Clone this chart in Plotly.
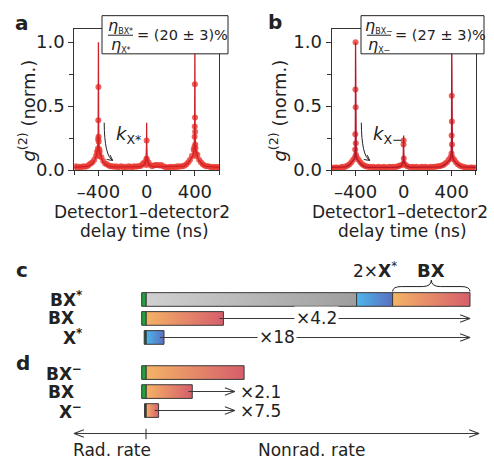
import math
import plotly.graph_objects as go

W, H = 494, 469
FONT = "DejaVu Sans"

# ---------------- panels a, b : g2 histograms ----------------
bins_ns = list(range(-600, 601, 15))  # histogram bin centres (ns)

a_counts = [0.02, 0.03, 0.02, 0.025, 0.02, 0.03, 0.025, 0.03, 0.04, 0.05,
            0.06, 0.08, 0.11, 0.15, 0.14, 0.10, 0.07, 0.05, 0.045, 0.035,
            0.03, 0.03, 0.025, 0.03, 0.02, 0.025, 0.03, 0.02, 0.025, 0.02,
            0.03, 0.025, 0.02, 0.03, 0.025, 0.03, 0.03, 0.035, 0.05, 0.06,
            0.08, 0.06, 0.04, 0.03, 0.035, 0.04, 0.04, 0.035, 0.04, 0.03,
            0.025, 0.02, 0.02, 0.025, 0.02, 0.025, 0.02, 0.03, 0.025, 0.03,
            0.03, 0.035, 0.045, 0.06, 0.08, 0.11, 0.16, 0.17, 0.12, 0.08,
            0.06, 0.045, 0.035, 0.03, 0.03, 0.025, 0.02, 0.025, 0.02, 0.025,
            0.02]
a_peak_ns = [-400, -401, -399, -402, -398, -403, -397, -408, -395, -412, -392,
             0, -1, 1, -4,
             400, 401, 399, 402, 398, 403, 397, 404, 396, 408]
a_peak_g2 = [0.65, 0.39, 0.26, 0.24, 0.22, 0.17, 0.13, 0.12, 0.11, 0.14, 0.16,
             0.23, 0.09, 0.05, 0.04,
             0.67, 0.41, 0.34, 0.30, 0.26, 0.20, 0.145, 0.11, 0.18, 0.13]
a_fit_ns = [-600, -480, -450, -430, -415, -406, -402, -400, -398, -394, -385,
            -370, -350, -320, -290, -60, -20, -5, -1, 0, 1, 5, 20, 60, 310,
            340, 365, 385, 394, 398, 400, 402, 406, 415, 430, 455, 480, 600]
a_fit_g2 = [0.02, 0.03, 0.05, 0.08, 0.12, 0.16, 0.30, 1.0, 0.30, 0.16, 0.12,
            0.08, 0.05, 0.03, 0.025, 0.025, 0.04, 0.08, 0.20, 0.37, 0.20, 0.08,
            0.04, 0.025, 0.03, 0.05, 0.08, 0.12, 0.16, 0.30, 1.0, 0.30, 0.16,
            0.12, 0.08, 0.05, 0.03, 0.02]

b_counts = [0.02, 0.015, 0.02, 0.02, 0.015, 0.02, 0.025, 0.02, 0.03, 0.035,
            0.045, 0.06, 0.08, 0.10, 0.10, 0.08, 0.06, 0.045, 0.035, 0.03,
            0.025, 0.025, 0.02, 0.025, 0.02, 0.02, 0.025, 0.02, 0.02, 0.025,
            0.02, 0.02, 0.025, 0.02, 0.025, 0.02, 0.025, 0.03, 0.035, 0.04,
            0.05, 0.04, 0.03, 0.025, 0.02, 0.025, 0.02, 0.025, 0.02, 0.02,
            0.025, 0.02, 0.025, 0.02, 0.02, 0.025, 0.02, 0.025, 0.025, 0.03,
            0.03, 0.035, 0.04, 0.05, 0.06, 0.08, 0.10, 0.10, 0.08, 0.06,
            0.045, 0.035, 0.03, 0.025, 0.02, 0.02, 0.015, 0.02, 0.02, 0.015,
            0.02]
b_peak_ns = [-400, -401, -399, -402, -398, -403, -397,
             0, -1, 1, 2,
             400, 401, 399, 402, 398, 403]
b_peak_g2 = [1.0, 0.63, 0.49, 0.28, 0.21, 0.16, 0.12,
             0.23, 0.20, 0.09, 0.05,
             0.58, 0.38, 0.27, 0.20, 0.13, 0.09]
b_fit_ns = a_fit_ns
b_fit_g2 = [0.02, 0.025, 0.04, 0.06, 0.08, 0.10, 0.25, 1.0, 0.25, 0.10, 0.08,
            0.06, 0.04, 0.025, 0.02, 0.02, 0.03, 0.06, 0.15, 0.27, 0.15, 0.06,
            0.03, 0.02, 0.025, 0.04, 0.06, 0.08, 0.10, 0.25, 1.0, 0.25, 0.10,
            0.08, 0.06, 0.04, 0.025, 0.02]

x_tickvals = [-400, 0, 400]
x_ticktext = ["\u2013400", "0", "400"]
y_tickvals = [0, 0.5, 1.0]
y_ticktext = ["0.0", "0.5", "1.0"]

ratio_texts = {"a": ("BX*", "X*", "(20 \u00b1 3)%"), "b": ("BX\u2212", "X\u2212", "(27 \u00b1 3)%")}

# ---------------- panels c, d : rates (unit = X* nonradiative rate) ----------------
c_labels = ["BX", "BX", "X"]
c_sups = ["*", "", "*"]
c_rows = [0, 1, 2]
c_rad = [0.24, 0.24, 0.10]
c_BXs_nonrad = 18.0
c_BX_nonrad = 4.3
c_X_nonrad = 1.0
c_ratio_text = ["\u00d74.2", "\u00d718"]
c_ratio_x = [9.45, 7.3]

d_labels = ["BX", "BX", "X"]
d_sups = ["\u2212", "", "\u2212"]
d_rows = [3.85, 4.85, 5.85]
d_rad = [0.24, 0.24, 0.08]
d_BXm_nonrad = 5.45
d_BX_nonrad = 2.57
d_Xm_nonrad = 0.70
d_ratio_text = ["\u00d72.1", "\u00d77.5"]

GREEN = "#22a03c"
DKGREEN = "#135c28"
EDGE = "#3a3a3a"
OR_SCALE = [[0, "#f4b366"], [1, "#d65e6b"]]
BL_SCALE = [[0, "#4db6ea"], [1, "#5a6ec0"]]
GR_SCALE = [[0, "#d0d0d0"], [1, "#9e9e9e"]]

fig = go.Figure()

def px2paper_x(px):
    return px / W

def px2paper_y(py):
    return 1 - py / H

top, bottom = 30.0, 173.7
YMAX = 1.1
AX = {"a": dict(x=(74.3, 219.0), xa="x", ya="y", counts=a_counts, pk=(a_peak_ns, a_peak_g2),
                fit=(a_fit_ns, a_fit_g2), fitc="#d0202a"),
      "b": dict(x=(331.5, 475.8), xa="x2", ya="y2", counts=b_counts, pk=(b_peak_ns, b_peak_g2),
                fit=(b_fit_ns, b_fit_g2), fitc="#b5182e")}

for key, p in AX.items():
    xs = bins_ns + p["pk"][0]
    ys = p["counts"] + p["pk"][1]
    fig.add_trace(go.Scatter(x=xs, y=ys, xaxis=p["xa"], yaxis=p["ya"], mode="markers",
                             marker=dict(color="#ea3a30", size=6, opacity=0.8, line=dict(width=0)),
                             showlegend=False, hoverinfo="skip"))
    fig.add_trace(go.Scatter(x=p["fit"][0], y=p["fit"][1], xaxis=p["xa"], yaxis=p["ya"], mode="lines",
                             line=dict(color=p["fitc"], width=1.3), showlegend=False, hoverinfo="skip"))

axis_common = dict(showline=True, mirror=True, linecolor="#333", linewidth=1, ticks="outside",
                   ticklen=5, tickcolor="#333", showgrid=False, zeroline=False,
                   tickfont=dict(family=FONT, size=18, color="#222"))
layout = dict(width=W, height=H, margin=dict(l=0, r=0, t=0, b=0),
              paper_bgcolor="white", plot_bgcolor="white", showlegend=False)
for key, p in AX.items():
    sx = "" if p["xa"] == "x" else p["xa"][1:]
    layout["xaxis" + sx] = dict(domain=[px2paper_x(p["x"][0]), px2paper_x(p["x"][1])], range=[-600, 600],
                               tickvals=x_tickvals, ticktext=x_ticktext, anchor=p["ya"],
                               minor=dict(tickmode="array", tickvals=[-600, -200, 200, 600],
                                          ticks="outside", ticklen=4, tickcolor="#333", showgrid=False),
                               **axis_common)
    layout["yaxis" + sx] = dict(domain=[px2paper_y(bottom), px2paper_y(top)], range=[0, YMAX],
                               tickvals=y_tickvals, ticktext=y_ticktext, anchor=p["xa"],
                               minor=dict(tickmode="array", tickvals=[0.25, 0.75],
                                          ticks="outside", ticklen=4, tickcolor="#333", showgrid=False),
                               **axis_common)

# c/d axes: x in rate units (18 px per unit, origin at 146 px), y in rows (19.4 px per row, row 0 at 306 px)
layout["xaxis3"] = dict(domain=[0, 1], range=[-146 / 18, (W - 146) / 18], visible=False, anchor="y3")
layout["yaxis3"] = dict(domain=[0, px2paper_y(262)], range=[(H - 306) / 19.4, (262 - 306) / 19.4],
                        visible=False, anchor="x3")
fig.update_layout(**layout)

annotations = []
shapes = []

def txt(text, x, y, size=16, xref="paper", yref="paper", xanchor="center", yanchor="middle",
        bold=False, **kw):
    if bold:
        text = "<b>" + text + "</b>"
    annotations.append(dict(text=text, x=x, y=y, xref=xref, yref=yref, xanchor=xanchor,
                            yanchor=yanchor, showarrow=False,
                            font=dict(family=FONT, size=size, color="#222"), **kw))

def line_trace(xs, ys, xa, ya, color=EDGE, width=1.1):
    fig.add_trace(go.Scatter(x=xs, y=ys, xaxis=xa, yaxis=ya, mode="lines",
                             line=dict(color=color, width=width), showlegend=False, hoverinfo="skip"))

# panel letters
txt("a", px2paper_x(21.5), px2paper_y(24), size=20, bold=True)
txt("b", px2paper_x(275), px2paper_y(22), size=20, bold=True)
txt("c", px2paper_x(22), px2paper_y(276), size=20, bold=True)
txt("d", px2paper_x(23), px2paper_y(371), size=20, bold=True)

# axis titles
for cx, ytx in [(142, 27), (400, 278)]:
    txt("Detector1\u2013detector2", px2paper_x(cx), px2paper_y(216.5), size=17)
    txt("delay time (ns)", px2paper_x(cx + 2), px2paper_y(236), size=17)
    txt("<i>g</i><sup>(2)</sup> (norm.)", px2paper_x(ytx), px2paper_y(113), size=18, textangle=-90)

# ratio boxes
for key, (bx0, bx1, fx0, fx1) in {"a": (102, 228, 108, 133), "b": (361, 484, 367, 391)}.items():
    num, den, val = ratio_texts[key]
    shapes.append(dict(type="rect", xref="paper", yref="paper", x0=px2paper_x(bx0), x1=px2paper_x(bx1),
                       y0=px2paper_y(55), y1=px2paper_y(16), fillcolor="white",
                       line=dict(color="#222", width=1), layer="above"))
    shapes.append(dict(type="line", xref="paper", yref="paper", x0=px2paper_x(fx0), x1=px2paper_x(fx1),
                       y0=px2paper_y(36), y1=px2paper_y(36), line=dict(color="#222", width=1), layer="above"))
    fc = (fx0 + fx1) / 2
    txt("<i>\u03b7</i><sub><span style='font-size:8px'>%s</span></sub>" % num, px2paper_x(fc), px2paper_y(27), size=16)
    txt("<i>\u03b7</i><sub><span style='font-size:8px'>%s</span></sub>" % den, px2paper_x(fc), px2paper_y(46), size=16)
    txt("= " + val, px2paper_x(fx1 + 2), px2paper_y(36), size=14.5, xanchor="left")

# decay arrows with k labels
HEAD = (-282, 0.075)
for key, p in AX.items():
    sub = "X*" if key == "a" else "X\u2212"
    shapes.append(dict(type="path", xref=p["xa"], yref=p["ya"],
                       path="M -352,0.37 Q -350,0.11 %g,%g" % HEAD, line=dict(color="#222", width=1)))
    # chevron head (screen direction right-down)
    pxns = (p["x"][1] - p["x"][0]) / 1200.0
    pxy = (bottom - top) / YMAX
    d = (0.8, 0.6)
    for ang in (28, -28):
        c, s = math.cos(math.radians(ang)), math.sin(math.radians(ang))
        bx, by = -d[0], -d[1]
        rx, ry = bx * c - by * s, bx * s + by * c
        line_trace([HEAD[0] + rx * 6 / pxns, HEAD[0]], [HEAD[1] - ry * 6 / pxy, HEAD[1]],
                   p["xa"], p["ya"], color="#222", width=1)
    txt("<i>k</i><sub>%s</sub>" % sub, -268, 0.27, size=18, xref=p["xa"], yref=p["ya"], xanchor="left")

# ---------------- bars c/d ----------------
BH = 0.36

def seg(x0, x1, row, color=None, scale=None):
    tr = dict(x=[x0, x1, x1, x0, x0], y=[row - BH, row - BH, row + BH, row + BH, row - BH],
              xaxis="x3", yaxis="y3", mode="lines", fill="toself",
              line=dict(color=EDGE, width=1), showlegend=False, hoverinfo="skip")
    if scale is not None:
        tr["fillgradient"] = dict(type="horizontal", colorscale=scale)
    else:
        tr["fillcolor"] = color
    fig.add_trace(go.Scatter(**tr))

def arrow_line(x0, x1, row):
    line_trace([x0, x1], [row, row], "x3", "y3")
    line_trace([x1 - 0.55, x1, x1 - 0.55], [row - 0.2, row, row + 0.2], "x3", "y3")

# c: BX*
gray_end = c_BXs_nonrad - 2 * c_X_nonrad - c_BX_nonrad
seg(0, gray_end, c_rows[0], scale=GR_SCALE)
seg(gray_end, c_BXs_nonrad - c_BX_nonrad, c_rows[0], scale=BL_SCALE)
seg(c_BXs_nonrad - c_BX_nonrad, c_BXs_nonrad, c_rows[0], scale=OR_SCALE)
seg(-c_rad[0], 0, c_rows[0], color=GREEN)
# c: BX
seg(0, c_BX_nonrad, c_rows[1], scale=OR_SCALE)
seg(-c_rad[1], 0, c_rows[1], color=GREEN)
# c: X*
seg(0, c_X_nonrad, c_rows[2], scale=BL_SCALE)
seg(-c_rad[2], 0, c_rows[2], color=DKGREEN)
# c arrows
for i, (val, row) in enumerate([(c_BX_nonrad, c_rows[1]), (c_X_nonrad, c_rows[2])]):
    arrow_line(val - 0.22, c_BXs_nonrad, row)
    annotations.append(dict(text=c_ratio_text[i], x=c_ratio_x[i], y=row, xref="x3", yref="y3",
                            showarrow=False, bgcolor="white", borderpad=1,
                            font=dict(family=FONT, size=17, color="#222")))

# brace over BX part of BX*
bx0, bx1 = c_BXs_nonrad - c_BX_nonrad, c_BXs_nonrad
bxm = (bx0 + bx1) / 2
yb, ym, yt, w = -0.42, -0.68, -1.02, 0.5
shapes.append(dict(type="path", xref="x3", yref="y3", line=dict(color="#222", width=1),
                   path=(f"M {bx0},{yb} Q {bx0},{ym} {bx0 + w},{ym} L {bxm - w},{ym} "
                         f"Q {bxm},{ym} {bxm},{yt} Q {bxm},{ym} {bxm + w},{ym} "
                         f"L {bx1 - w},{ym} Q {bx1},{ym} {bx1},{yb}")))
blue_mid = c_BXs_nonrad - c_BX_nonrad - c_X_nonrad
txt("2\u00d7<b>X</b><sup>*</sup>", blue_mid, -1.55, size=17, xref="x3", yref="y3")
txt("BX", bxm, -1.55, size=18, xref="x3", yref="y3", bold=True)

# d bars
seg(0, d_BXm_nonrad, d_rows[0], scale=OR_SCALE)
seg(-d_rad[0], 0, d_rows[0], color=GREEN)
seg(0, d_BX_nonrad, d_rows[1], scale=OR_SCALE)
seg(-d_rad[1], 0, d_rows[1], color=GREEN)
seg(0, d_Xm_nonrad, d_rows[2], scale=OR_SCALE)
seg(-d_rad[2], 0, d_rows[2], color=DKGREEN)
d_arrow_end = d_BXm_nonrad * 0.905
for i, (val, row) in enumerate([(d_BX_nonrad, d_rows[1]), (d_Xm_nonrad, d_rows[2])]):
    arrow_line(val - 0.22, d_arrow_end, row)
    txt(d_ratio_text[i], d_arrow_end + 0.2, row, size=17, xref="x3", yref="y3", xanchor="left")

# row labels
for labels, sups, rows in [(c_labels, c_sups, c_rows), (d_labels, d_sups, d_rows)]:
    for lab, sup, row in zip(labels, sups, rows):
        if sup:
            txt("<b>%s</b><sup><b>%s</b></sup>" % (lab, sup), -3.45, row, size=17,
                xref="x3", yref="y3", xanchor="right")
        else:
            txt("<b>%s</b>" % lab, -3.9, row, size=17, xref="x3", yref="y3", xanchor="right")

# rate axis (double arrow) with tick at the rad/nonrad boundary
axis_row = 7.06
ax_lo, ax_hi = -4.0, 18.5
line_trace([ax_lo, ax_hi], [axis_row, axis_row], "x3", "y3")
for end, sgn in [(ax_lo, 1), (ax_hi, -1)]:
    line_trace([end + sgn * 0.55, end, end + sgn * 0.55], [axis_row - 0.2, axis_row, axis_row + 0.2], "x3", "y3")
line_trace([0, 0], [axis_row - 0.25, axis_row + 0.3], "x3", "y3")
txt("Rad. rate", -1.9, 7.94, size=17, xref="x3", yref="y3")
txt("Nonrad. rate", 9.2, 7.94, size=17, xref="x3", yref="y3")

fig.update_layout(annotations=annotations, shapes=shapes)
fig.write_html("out.html")
